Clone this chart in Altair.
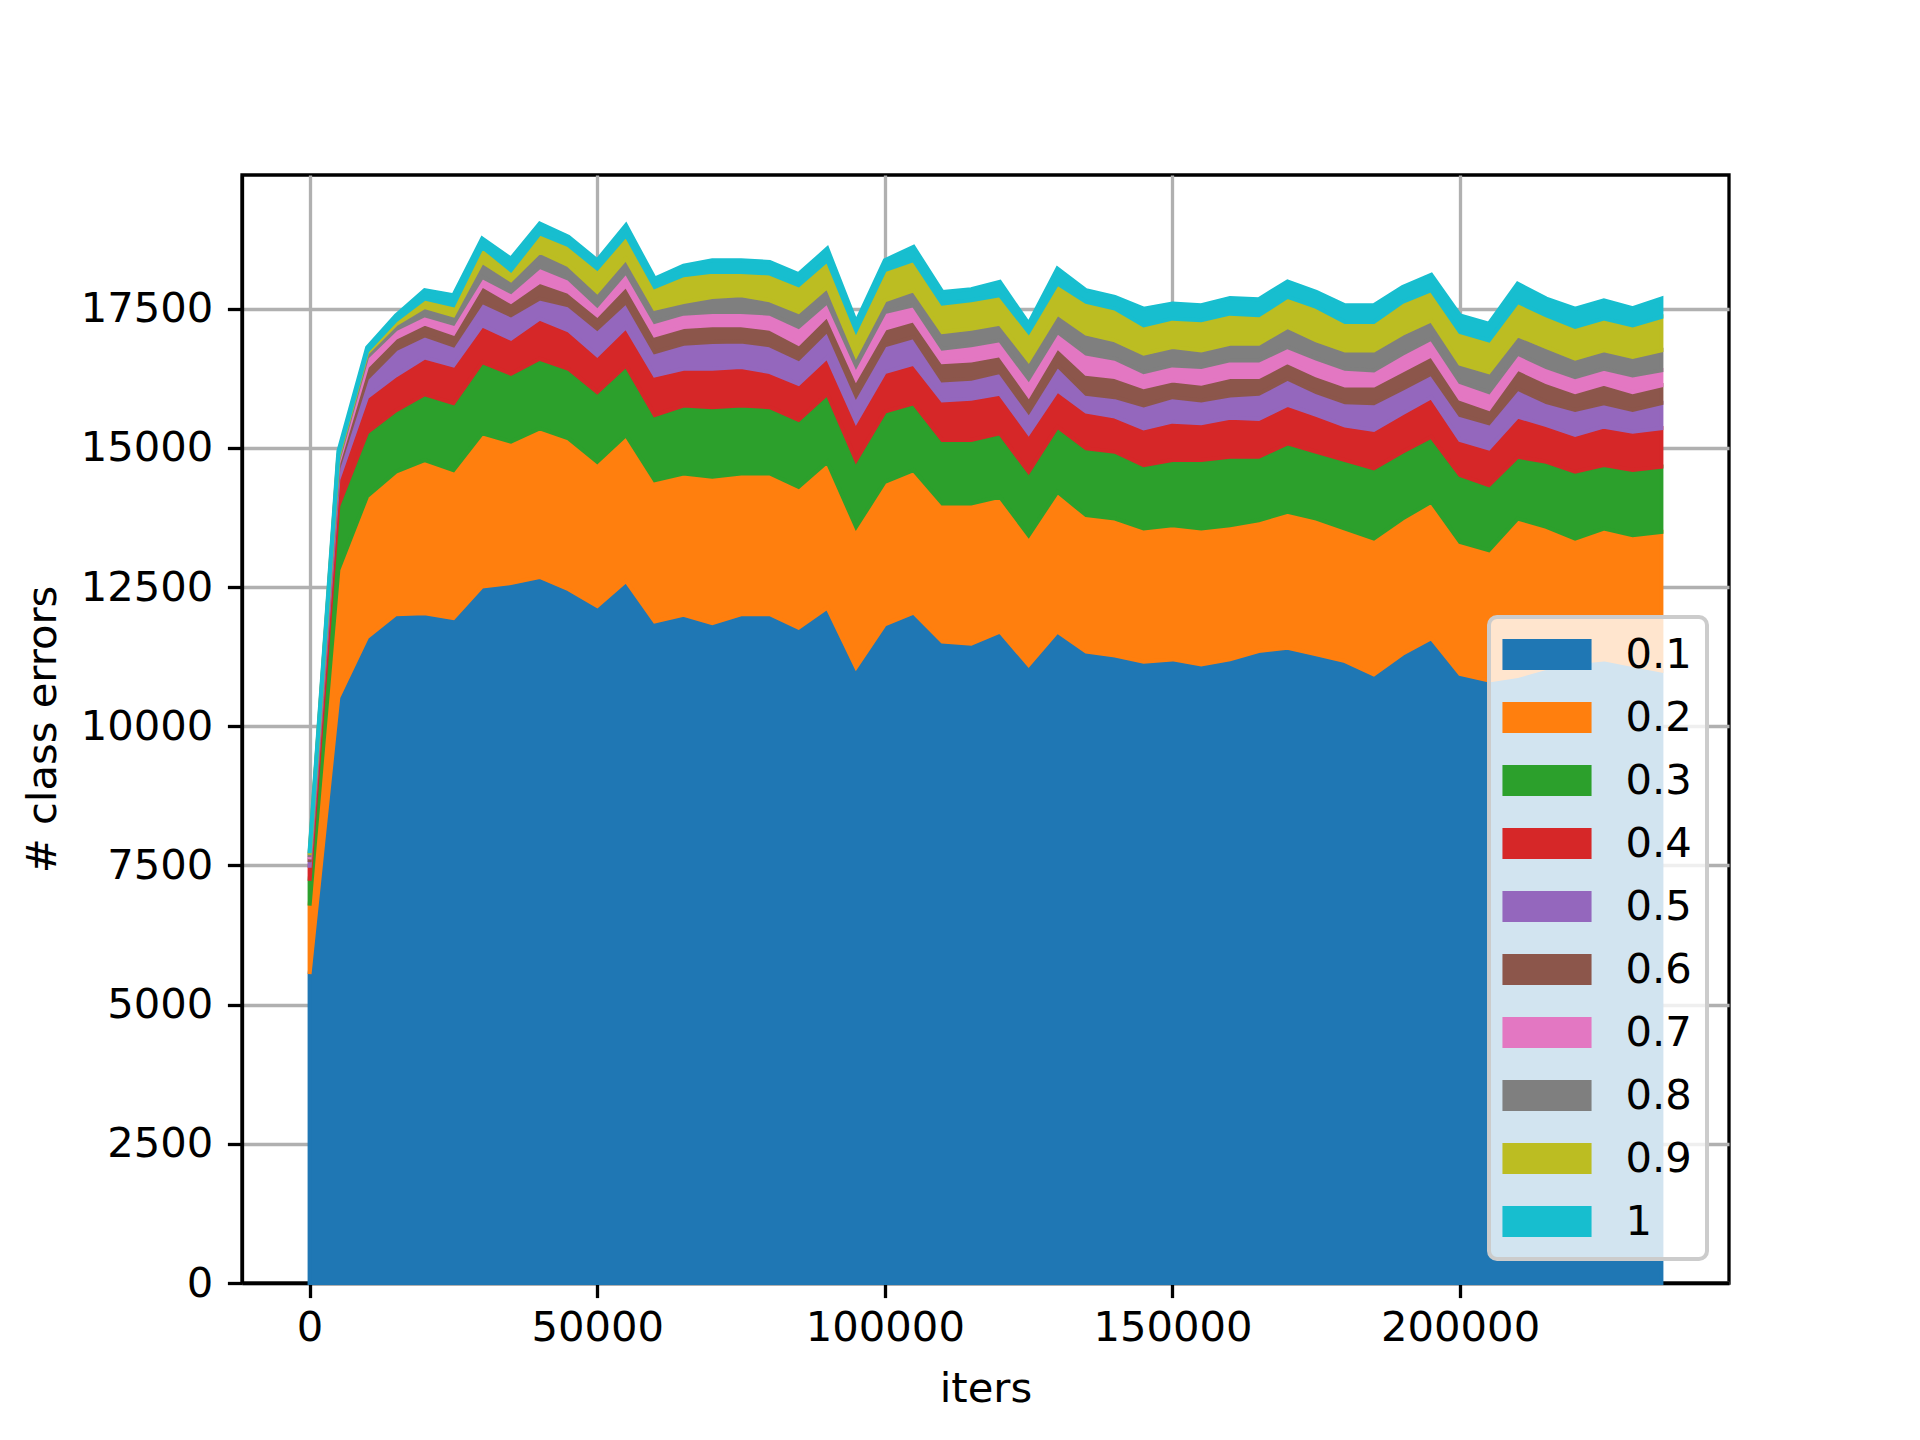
import altair as alt
import pandas as pd

ITERS = [0, 5000, 10000, 15000, 20000, 25000, 30000, 35000, 40000, 45000,
         50000, 55000, 60000, 65000, 70000, 75000, 80000, 85000, 90000, 95000,
         100000, 105000, 110000, 115000, 120000, 125000, 130000, 135000, 140000, 145000,
         150000, 155000, 160000, 165000, 170000, 175000, 180000, 185000, 190000, 195000,
         200000, 205000, 210000, 215000, 220000, 225000, 230000, 235000]

SERIES = ["0.1", "0.2", "0.3", "0.4", "0.5", "0.6", "0.7", "0.8", "0.9", "1"]
COLORS = ["#1f77b4", "#ff7f0e", "#2ca02c", "#d62728", "#9467bd",
          "#8c564b", "#e377c2", "#7f7f7f", "#bcbd22", "#17becf"]

# Upper edge of each stacked band
TOP_01 = [5550, 10520, 11600, 12010, 12030, 11940, 12510, 12570, 12680, 12460, 12160, 12610,
          11880, 12000, 11850, 12010, 12010, 11770, 12130, 11060, 11830, 12040, 11520, 11480,
          11700, 11100, 11700, 11340, 11270, 11160, 11200, 11110, 11200, 11350, 11410, 11290,
          11170, 10930, 11300, 11580, 10940, 10820, 10900, 11050, 11150, 11200, 11100, 11000]
TOP_02 = [6780, 12810, 14130, 14570, 14780, 14600, 15260, 15110, 15350, 15170, 14750, 15230,
          14420, 14540, 14480, 14540, 14540, 14300, 14750, 13580, 14390, 14600, 14000, 14000,
          14120, 13430, 14210, 13790, 13730, 13550, 13610, 13550, 13610, 13700, 13850, 13730,
          13550, 13370, 13730, 14030, 13310, 13160, 13730, 13580, 13370, 13550, 13430, 13490]
TOP_03 = [7225, 13960, 15275, 15670, 15960, 15800, 16540, 16330, 16600, 16420, 16000, 16480,
          15590, 15760, 15730, 15760, 15730, 15500, 15970, 14780, 15650, 15800, 15140, 15140,
          15260, 14570, 15380, 14990, 14930, 14690, 14780, 14780, 14840, 14840, 15080, 14930,
          14780, 14630, 14930, 15200, 14510, 14330, 14840, 14750, 14570, 14690, 14600, 14660]
TOP_04 = [7460, 14430, 15910, 16300, 16620, 16480, 17200, 16960, 17320, 17110, 16660, 17170,
          16300, 16420, 16420, 16450, 16360, 16150, 16630, 15470, 16360, 16510, 15850, 15880,
          15970, 15260, 16030, 15650, 15560, 15350, 15470, 15440, 15540, 15520, 15770, 15590,
          15400, 15320, 15620, 15910, 15140, 14990, 15560, 15410, 15230, 15380, 15290, 15350]
TOP_05 = [7560, 14640, 16250, 16770, 17020, 16840, 17620, 17380, 17680, 17560, 17140, 17620,
          16720, 16870, 16900, 16910, 16840, 16600, 17110, 15940, 16840, 16990, 16210, 16240,
          16360, 15650, 16480, 15970, 15910, 15760, 15910, 15850, 15940, 15970, 16240, 16000,
          15820, 15800, 16060, 16330, 15590, 15440, 16060, 15820, 15680, 15800, 15680, 15800]
TOP_06 = [7610, 14720, 16460, 16980, 17230, 17050, 17920, 17620, 17980, 17800, 17380, 17920,
          17020, 17170, 17200, 17200, 17140, 16870, 17380, 16240, 17140, 17290, 16540, 16570,
          16660, 15940, 16810, 16330, 16270, 16090, 16210, 16150, 16270, 16270, 16540, 16300,
          16120, 16120, 16390, 16660, 15880, 15700, 16420, 16180, 16000, 16150, 16000, 16120]
TOP_07 = [7650, 14780, 16630, 17130, 17380, 17230, 18070, 17800, 18250, 18040, 17560, 18160,
          17260, 17410, 17440, 17440, 17410, 17170, 17620, 16480, 17440, 17560, 16780, 16840,
          16930, 16240, 17080, 16690, 16600, 16360, 16480, 16450, 16570, 16570, 16810, 16600,
          16420, 16390, 16690, 16960, 16180, 16000, 16690, 16450, 16270, 16420, 16300, 16390]
TOP_08 = [7690, 14830, 16700, 17220, 17530, 17380, 18340, 18010, 18520, 18280, 17800, 18400,
          17500, 17620, 17710, 17740, 17650, 17440, 17890, 16660, 17650, 17830, 17080, 17140,
          17230, 16570, 17410, 17050, 16930, 16690, 16810, 16750, 16870, 16870, 17170, 16930,
          16750, 16750, 17050, 17290, 16510, 16360, 17020, 16810, 16600, 16750, 16630, 16750]
TOP_09 = [7720, 14870, 16735, 17290, 17680, 17560, 18610, 18190, 18850, 18640, 18220, 18820,
          17890, 18100, 18160, 18160, 18130, 17920, 18370, 17110, 18190, 18370, 17590, 17650,
          17740, 17080, 17950, 17620, 17500, 17200, 17320, 17290, 17410, 17380, 17710, 17530,
          17260, 17260, 17620, 17830, 17080, 16930, 17620, 17380, 17170, 17320, 17200, 17350]
TOP_10 = [7760, 14935, 16800, 17380, 17830, 17740, 18760, 18400, 19030, 18790, 18370, 19000,
          18040, 18270, 18370, 18370, 18340, 18120, 18580, 17260, 18370, 18610, 17800, 17850,
          17980, 17230, 18220, 17830, 17710, 17500, 17590, 17560, 17690, 17670, 17990, 17800,
          17560, 17560, 17890, 18110, 17380, 17230, 17950, 17680, 17500, 17650, 17510, 17680]

X_TICKS = [0, 50000, 100000, 150000, 200000]
Y_TICKS = [0, 2500, 5000, 7500, 10000, 12500, 15000, 17500]

TOPS = [TOP_01, TOP_02, TOP_03, TOP_04, TOP_05, TOP_06, TOP_07, TOP_08, TOP_09, TOP_10]

rows = []
for k, name in enumerate(SERIES):
    tops = TOPS[k]
    bottoms = TOPS[k - 1] if k > 0 else [0] * len(ITERS)
    for i, x in enumerate(ITERS):
        rows.append({"iters": x, "series": name, "k": k, "top": tops[i], "bottom": bottoms[i]})
df = pd.DataFrame(rows)

FONT = "DejaVu Sans"
FS = 41.7
PATH = "M-1.98,-0.69H1.98V0.69H-1.98Z"

chart = alt.Chart(df).mark_area(strokeWidth=4, interpolate="linear", opacity=1).encode(
    x=alt.X("iters:Q",
            scale=alt.Scale(domain=[-11750, 246750], nice=False, zero=False),
            axis=alt.Axis(values=X_TICKS, format="d", title="iters",
                          titlePadding=20, labelPadding=9.5)),
    y=alt.Y("top:Q",
            scale=alt.Scale(domain=[0, 19900], nice=False),
            axis=alt.Axis(values=Y_TICKS, format="d", title="# class errors",
                          titlePadding=16, labelPadding=14.6)),
    y2="bottom:Q",
    color=alt.Color("series:N",
                    scale=alt.Scale(domain=SERIES, range=COLORS),
                    legend=alt.Legend(title=None, orient="none", legendX=1247, legendY=442,
                                      symbolType=PATH, symbolSize=2025, symbolStrokeWidth=0,
                                      symbolOpacity=1, labelFontSize=FS, labelFont=FONT,
                                      labelColor="black", labelOffset=56, symbolOffset=20.5,
                                      rowPadding=18, padding=15,
                                      fillColor="rgba(255,255,255,0.8)", strokeColor="#cccccc",
                                      cornerRadius=8)),
    stroke=alt.Stroke("series:N", scale=alt.Scale(domain=SERIES, range=COLORS), legend=None),
    order=alt.Order("k:Q"),
).properties(
    width=1487, height=1108,
    autosize=alt.AutoSizeParams(type="none"),
    padding={"left": 234, "top": 167, "right": 175, "bottom": 135},
    background="white",
).configure_view(
    stroke="black", strokeWidth=3.3
).configure_axis(
    labelFont=FONT, labelFontSize=FS, labelColor="black",
    titleFont=FONT, titleFontSize=FS, titleFontWeight="normal", titleColor="black",
    tickColor="black", tickSize=14.6, tickWidth=3.3,
    domainColor="black", domainWidth=3.3,
    gridColor="#b0b0b0", gridWidth=3.3, gridOpacity=1,
    zindex=1,
).configure_legend(
    strokeWidth=4
)

chart.save("out.html", embed_options={"renderer": "svg", "actions": False})
